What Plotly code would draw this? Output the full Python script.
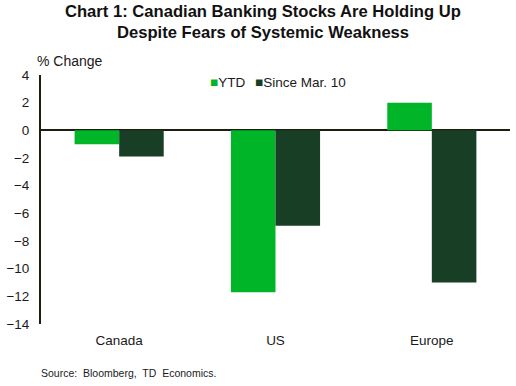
import plotly.graph_objects as go

categories = ["Canada", "US", "Europe"]
ytd = [-1.0, -11.7, 2.0]
since_mar10 = [-1.9, -6.9, -11.0]
y_ticks = [4, 2, 0, -2, -4, -6, -8, -10, -12, -14]

FONT = "Liberation Sans, Arial, sans-serif"
C_YTD = "#00B527"
C_SINCE = "#183F25"
AXIS = "#1c1f10"

W, H = 516, 386
L, R, T, B = 37, 6, 75, 62
PH = H - T - B


def py(pix):
    # pixel y (from top) -> paper y
    return (H - B - pix) / PH


def px(pix):
    return (pix - L) / (W - L - R)


fig = go.Figure()
fig.add_trace(go.Bar(x=categories, y=ytd, name="YTD", marker=dict(color=C_YTD, line=dict(width=0))))
fig.add_trace(go.Bar(x=categories, y=since_mar10, name="Since Mar. 10", marker=dict(color=C_SINCE, line=dict(width=0))))

fig.update_layout(
    width=W, height=H,
    margin=dict(l=L, r=R, t=T, b=B),
    paper_bgcolor="white", plot_bgcolor="white",
    font=dict(family=FONT, size=13.5, color="#1a1a1a"),
    barmode="group", bargap=0.43, bargroupgap=0,
    showlegend=False,
    xaxis=dict(showgrid=False, showline=False, ticks="", zeroline=False,
               tickfont=dict(size=13.5), ticklabelstandoff=6),
    yaxis=dict(range=[-14, 4], tickvals=y_ticks, showgrid=False,
               showline=True, linecolor=AXIS, linewidth=2,
               ticks="", zeroline=True, zerolinecolor=AXIS, zerolinewidth=2,
               tickfont=dict(size=13.5), ticklabelstandoff=7),
    annotations=[
        dict(text="<b>Chart 1: Canadian Banking Stocks Are Holding Up</b>", xref="paper", yref="paper",
             x=px(261), y=py(12), xanchor="center", yanchor="middle", showarrow=False,
             font=dict(size=16.6, color="#111111")),
        dict(text="<b>Despite Fears of Systemic Weakness</b>", xref="paper", yref="paper",
             x=px(261), y=py(32), xanchor="center", yanchor="middle", showarrow=False,
             font=dict(size=16.6, color="#111111")),
        dict(text="% Change", xref="paper", yref="paper", x=px(31), y=py(61),
             xanchor="left", yanchor="middle", showarrow=False, font=dict(size=14)),
        dict(text=f"<span style='color:{C_YTD}'>■</span>YTD", xref="paper", yref="paper",
             x=px(205), y=py(83), xanchor="left", yanchor="middle", showarrow=False,
             font=dict(size=13.5)),
        dict(text=f"<span style='color:{C_SINCE}'>■</span>Since Mar. 10", xref="paper", yref="paper",
             x=px(251), y=py(83), xanchor="left", yanchor="middle", showarrow=False,
             font=dict(size=13.5)),
        dict(text="Source:&nbsp; Bloomberg,&nbsp; TD&nbsp; Economics.", xref="paper", yref="paper",
             x=px(35), y=py(373), xanchor="left", yanchor="middle", showarrow=False,
             font=dict(size=10.5)),
    ],
)

fig.write_html("out.html", config={"displayModeBar": False},
               post_script="document.body.style.margin='0';document.body.style.overflow='hidden';")
